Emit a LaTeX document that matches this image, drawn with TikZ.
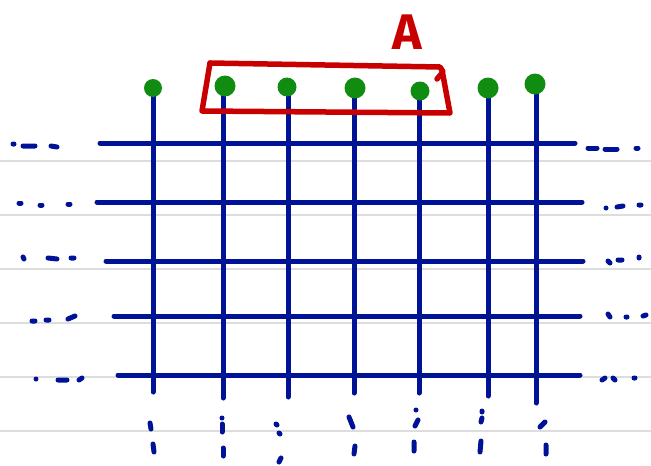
\documentclass[tikz,border=0pt]{standalone}
\usepackage{fontspec}
\setsansfont{Fira Sans}
\definecolor{inkblue}{RGB}{0,18,150}
\definecolor{inkgreen}{RGB}{16,140,16}
\definecolor{inkred}{RGB}{200,0,0}
\definecolor{rule}{RGB}{221,221,221}
\begin{document}
\begin{tikzpicture}[x=1pt,y=-1pt,
  ruleline/.style={rule,line width=2.5pt},
  wire/.style={inkblue,line width=5pt,line cap=round},
  tick/.style={inkblue,line width=5pt,line cap=round},
  bead/.style={circle,fill=inkgreen,inner sep=0pt,minimum size=21pt},
  frame/.style={inkred,line width=5.5pt,line cap=round,line join=round}]
\useasboundingbox (0,0) rectangle (651,466);
% ruled lines
\foreach \y in {161,215,269,323,377,431} \draw[ruleline] (0,\y) -- (651,\y);
% horizontal wires
\draw[wire] (100,143) -- (575,143);
\draw[wire] (97,202) -- (582,202);
\draw[wire] (106,261) -- (583,261);
\draw[wire] (114,316) -- (580,316);
\draw[wire] (118,375) -- (580,375);
% vertical wires
\foreach \x/\b in {153/392,223/398,288/397,354/393,419/393,488/396,536/403}
  \draw[wire] (\x,90) -- (\x,\b);
% green beads
\node[bead,minimum size=18pt] (g1) at (153,88) {};
\node[bead] (g2) at (225,86) {};
\node[bead,minimum size=19pt] (g3) at (287,87) {};
\node[bead] (g4) at (355,88) {};
\node[bead,minimum size=19pt] (g5) at (420,91) {};
\node[bead] (g6) at (488,88) {};
\node[bead] (g7) at (535,84) {};
% red frame
\draw[frame] (210,63) -- (440,67) -- (443,72) -- (437,79);
\draw[frame] (442,70) -- (450,113) -- (202,111) -- (210,63);
\node[inkred,font=\sffamily\bfseries\fontsize{50}{50}\selectfont,inner sep=0pt] (A) at (407,32) {A};
% left ticks
\draw[tick] (13,144) -- (14,144) (23,146) -- (35,146) (51,146) -- (57,147);
\draw[tick] (19,203) -- (21,203) (40,205) -- (42,205) (68,204) -- (70,204);
\draw[tick] (23,257) -- (24,259) (48,258) -- (57,259) (71,258) -- (74,258);
\draw[tick] (32,321) -- (35,321) (46,320) -- (49,320) (68,319) -- (75,316);
\draw[tick] (36,379) -- (36,379) (58,380) -- (67,380) (79,380) -- (82,378);
% right ticks
\draw[tick] (588,148) -- (597,148) (605,149) -- (617,149) (636,148) -- (638,148);
\draw[tick] (606,208) -- (606,208) (617,207) -- (623,206) (639,205) -- (641,205);
\draw[tick] (608,261) -- (610,263) (618,260) -- (622,260) (639,258) -- (639,257);
\draw[tick] (608,314) -- (610,317) (626,317) -- (627,317) (643,316) -- (646,315);
\draw[tick] (602,380) -- (605,378) (613,378) -- (615,380) (634,378) -- (635,378);
% bottom ticks
\draw[tick] (150,423) -- (151,429) (153,444) -- (154,452);
\draw[tick] (222,418) -- (222,418) (222,424) -- (222,432) (223,448) -- (223,456);
\draw[tick] (276,424) -- (277,425) (279,433) -- (280,434) (281,458) -- (279,462);
\draw[tick] (349,417) -- (353,427) (355,446) -- (354,454);
\draw[tick] (416,410) -- (416,410) (418,420) -- (415,426) (414,442) -- (414,451);
\draw[tick] (482,411) -- (482,412) (482,418) -- (481,422) (481,441) -- (480,452);
\draw[tick] (540,427) -- (545,422) (546,445) -- (546,454);
\end{tikzpicture}
\end{document}
